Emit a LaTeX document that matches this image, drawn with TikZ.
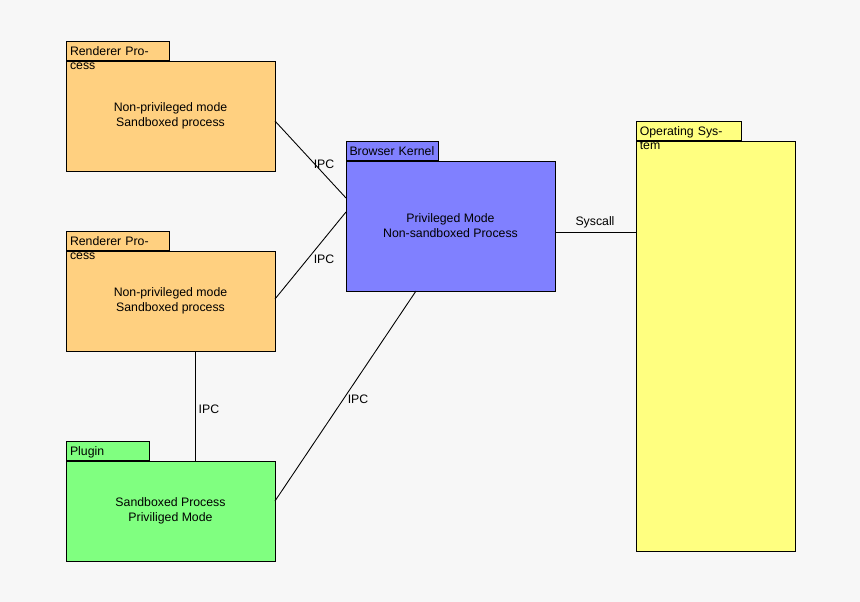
\documentclass[tikz,border=0pt]{standalone}
\usepackage{fontspec}
\setmainfont{Liberation Sans}
\usetikzlibrary{positioning}
\definecolor{bg}{HTML}{F7F7F7}
\definecolor{rend}{HTML}{FFD080}
\definecolor{kern}{HTML}{8080FF}
\definecolor{plug}{HTML}{80FF80}
\definecolor{opsys}{HTML}{FFFF80}
\tikzset{%
  % package bodies and their tabs
        body/.style = {rectangle, draw=black, line width=0.5pt, align=center,
                       inner sep=0pt, font=\fontsize{7}{8.6}\selectfont},
         tab/.style = {rectangle, draw=black, line width=0.5pt, anchor=south west,
                       minimum height=0.38cm, inner sep=2pt, text depth=0pt,
                       font=\fontsize{7}{8}\selectfont},
        link/.style = {draw=black, line width=0.5pt},
       label/.style = {font=\fontsize{7}{8}\selectfont},
}
\begin{document}
\begin{tikzpicture}[x=0.02cm,y=-0.02cm]
  \fill[bg] (0,0) rectangle (860,602);
  \useasboundingbox (0,0) rectangle (860,602);
  % bodies
  \node (rendA) [body, fill=rend, minimum width=4.18cm, minimum height=2.2cm]
        at (170.5,116) {Non-privileged mode\\Sandboxed process};
  \node (rendB) [body, fill=rend, minimum width=4.18cm, minimum height=2cm]
        at (170.5,301) {Non-privileged mode\\Sandboxed process};
  \node (plugin) [body, fill=plug, minimum width=4.18cm, minimum height=2cm]
        at (170.5,511) {Sandboxed Process\\Priviliged Mode};
  \node (kernel) [body, fill=kern, minimum width=4.18cm, minimum height=2.6cm]
        at (450.5,226) {Privileged Mode\\Non-sandboxed Process};
  \node (os) [body, fill=opsys, minimum width=3.18cm, minimum height=8.2cm]
        at (715.5,346) {};
  % tabs
  \node (rendAtab) [tab, fill=rend, minimum width=2.06cm, text width=1.9cm] at (rendA.north west) {Renderer Process};
  \node (rendBtab) [tab, fill=rend, minimum width=2.06cm, text width=1.9cm] at (rendB.north west) {Renderer Process};
  \node (plugintab) [tab, fill=plug, minimum width=1.66cm, text width=1.5cm] at (plugin.north west) {Plugin};
  \node (kerneltab) [tab, fill=kern, minimum width=1.84cm, text width=1.7cm] at (kernel.north west) {Browser Kernel};
  \node (ostab) [tab, fill=opsys, minimum width=2.1cm, text width=1.95cm] at (os.north west) {Operating System};
  % connectors
  \coordinate (kA) at (346,198);
  \coordinate (kB) at (346,212);
  \coordinate (kC) at (416,291);
  \coordinate (pC) at (275,501);
  \coordinate (rA) at (275,121);
  \coordinate (rB) at (275,299);
  \coordinate (rBs) at (195,351);
  \coordinate (pT) at (195,461);
  \draw[link] (rA) -- (kA);
  \draw[link] (rB) -- (kB);
  \draw[link] (rBs) -- (pT);
  \draw[link] (pC) -- (kC);
  \draw[link] (kernel.east |- 0,232) -- (os.west |- 0,232);
  \node (ipcA) [label] at (324,164) {IPC};
  \node (ipcB) [label] at (324,259) {IPC};
  \node (ipcC) [label] at (209,409) {IPC};
  \node (ipcD) [label] at (358,399) {IPC};
  \node (sys) [label] at (595,222) {Syscall};
\end{tikzpicture}
\end{document}
